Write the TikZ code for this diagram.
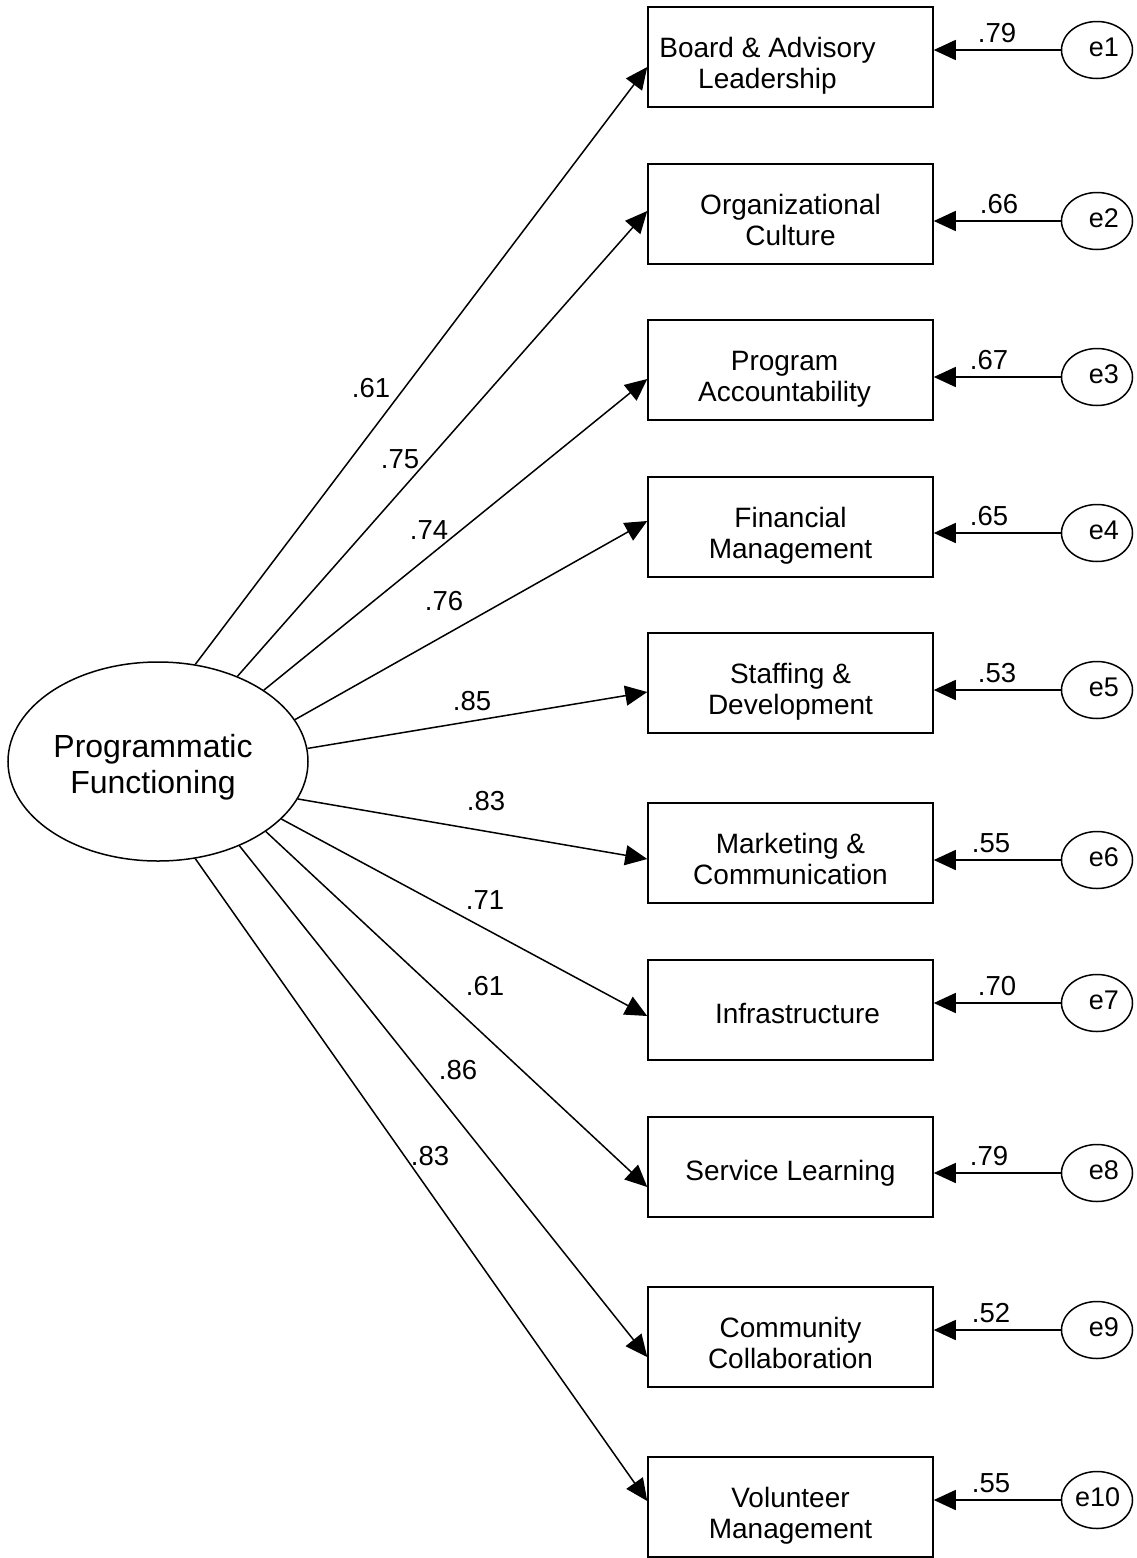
\documentclass[tikz,border=0pt]{standalone}
\usepackage{fontspec}
\setmainfont{Liberation Sans}
\usetikzlibrary{arrows.meta,shapes.geometric}
\newcommand\hiS{\rule{0pt}{39pt}}
\newcommand\loS{\rule[-8pt]{0pt}{8pt}}
\newcommand\oneS{\rule{0pt}{34pt}}
\newcommand\eS[1]{\rule{0pt}{18pt}#1\rule[-6pt]{0pt}{6pt}}
\begin{document}
\begin{tikzpicture}[x=1pt,y=-1pt,
  obs/.style={draw,line width=1.5pt,rectangle,minimum width=285pt,minimum height=100pt,inner sep=1pt,align=center,font=\fontsize{28}{31}\selectfont},
  lat/.style={draw,ellipse,line width=1.5pt,minimum width=300pt,minimum height=199pt,inner sep=1pt,align=center,font=\fontsize{32}{36}\selectfont},
  err/.style={draw,ellipse,line width=1.5pt,minimum width=71pt,minimum height=57pt,inner sep=1pt,text width=44pt,align=right,font=\fontsize{27}{30}\selectfont},
  coef/.style={inner sep=0pt,font=\fontsize{27.5}{30}\selectfont},
  conn/.style={line width=1.5pt,-{Triangle[length=22pt,width=20pt]}}
]
\useasboundingbox (0,0) rectangle (1136,1558);

% latent variable
\node[lat] (F) at (158,761.5) {\rule{0pt}{36pt}Programmatic\hspace*{10pt}\\Functioning\hspace*{10pt}\rule[-9pt]{0pt}{9pt}};

% observed variables
\node[obs] (b1) at (790.5,57) {\hiS Board \& Advisory\hspace*{46pt}\\Leadership\hspace*{46pt}\loS};
\node[obs] (b2) at (790.5,214) {\hiS Organizational\\Culture\loS};
\node[obs] (b3) at (790.5,370) {\hiS Program\hspace*{12pt}\\Accountability\hspace*{12pt}\loS};
\node[obs] (b4) at (790.5,527) {\hiS Financial\\Management\loS};
\node[obs] (b5) at (790.5,683) {\hiS Staffing \&\\Development\loS};
\node[obs] (b6) at (790.5,853) {\hiS Marketing \&\\Communication\loS};
\node[obs] (b7) at (790.5,1010) {\oneS\hspace*{14pt}Infrastructure\loS};
\node[obs] (b8) at (790.5,1167) {\oneS Service Learning\loS};
\node[obs] (b9) at (790.5,1337) {\hiS Community\\Collaboration\loS};
\node[obs] (b10) at (790.5,1507) {\hiS Volunteer\\Management\loS};

% error terms
\node[err] (e1) at (1097,50) {\eS{e1}};
\node[err] (e2) at (1097,221) {\eS{e2}};
\node[err] (e3) at (1097,377) {\eS{e3}};
\node[err] (e4) at (1097,533) {\eS{e4}};
\node[err] (e5) at (1097,690) {\eS{e5}};
\node[err] (e6) at (1097,860) {\eS{e6}};
\node[err] (e7) at (1097,1003) {\eS{e7}};
\node[err] (e8) at (1097,1173) {\eS{e8}};
\node[err] (e9) at (1097,1330) {\eS{e9}};
\node[err] (e10) at (1097,1500) {\eS{e10}};

% loadings
\draw[conn] (F.69.6) -- ([yshift=-10pt]b1.west);
\draw[conn] (F.47.2) -- ([yshift=3pt]b2.west);
\draw[conn] (F.34.0) -- ([yshift=-9pt]b3.west);
\draw[conn] (F.17.5) -- ([yshift=6pt]b4.west);
\draw[conn] (F.5.6) -- ([yshift=-9pt]b5.west);
\draw[conn] (F.-15.2) -- ([yshift=-6pt]b6.west);
\draw[conn] (F.-25.0) -- ([yshift=-6pt]b7.west);
\draw[conn] (F.-33.6) -- ([yshift=-20pt]b8.west);
\draw[conn] (F.-46.8) -- ([yshift=-20pt]b9.west);
\draw[conn] (F.-69.5) -- ([yshift=6pt]b10.west);

% error paths
\foreach \i in {1,...,10}{
  \draw[conn] (e\i.west) -- (e\i.west -| b\i.east);
}

% loading coefficients
\node[coef] (c1) at (371,388.5) {.61};
\node[coef] (c2) at (400,459) {.75};
\node[coef] (c3) at (429,530) {.74};
\node[coef] (c4) at (444,601) {.76};
\node[coef] (c5) at (472,701) {.85};
\node[coef] (c6) at (486,801) {.83};
\node[coef] (c7) at (485,900) {.71};
\node[coef] (c8) at (485,986) {.61};
\node[coef] (c9) at (458,1070) {.86};
\node[coef] (c10) at (430,1156) {.83};

% error coefficients
\node[coef,anchor=base] (r1) at (997,42) {.79};
\node[coef,anchor=base] (r2) at (999,213) {.66};
\node[coef,anchor=base] (r3) at (989,369) {.67};
\node[coef,anchor=base] (r4) at (989,525) {.65};
\node[coef,anchor=base] (r5) at (997,682) {.53};
\node[coef,anchor=base] (r6) at (991,852) {.55};
\node[coef,anchor=base] (r7) at (997,995) {.70};
\node[coef,anchor=base] (r8) at (989,1165) {.79};
\node[coef,anchor=base] (r9) at (991,1322) {.52};
\node[coef,anchor=base] (r10) at (991,1492) {.55};
\end{tikzpicture}
\end{document}
